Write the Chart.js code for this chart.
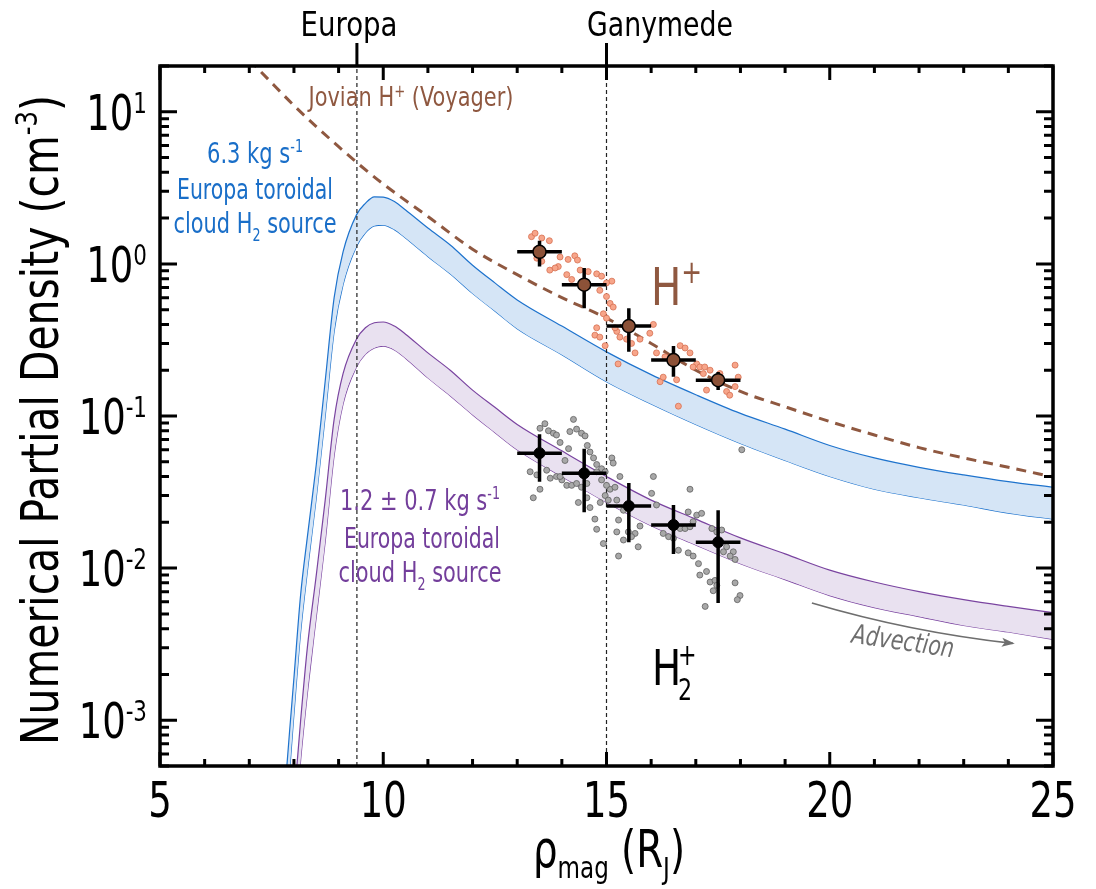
<!DOCTYPE html>
<html>
<head>
<meta charset="utf-8">
<script src="https://cdn.jsdelivr.net/npm/chart.js@4.4.1/dist/chart.umd.min.js"></script>
<style>
  html, body { margin: 0; padding: 0; background: #fff; }
  #wrap { width: 1096px; height: 889px; }
</style>
</head>
<body>
<div id="wrap"><canvas id="densityChart" width="1096" height="889"></canvas></div>
<script>
const FONT = '"Liberation Sans Narrow", "DejaVu Sans Condensed", "Roboto", sans-serif';

// model curves (rho_mag in R_J, density in cm^-3)
const modelRho    = [7.8, 7.9, 8.0, 8.15, 8.3, 8.5, 8.7, 8.9, 9.1, 9.4, 9.6, 9.8, 10.0, 10.25, 10.5, 11, 11.5, 12, 12.5, 13, 14, 15, 16, 17, 18, 19, 20, 21, 22, 23, 24, 25];
const blueUpper   = [3.5e-4, 8.3e-4, 0.0019, 0.0067, 0.016, 0.048, 0.17, 0.6, 1.2, 2.1, 2.5, 2.76, 2.75, 2.57, 2.26, 1.72, 1.33, 0.98, 0.75, 0.58, 0.39, 0.264, 0.187, 0.138, 0.104, 0.082, 0.064, 0.053, 0.046, 0.041, 0.037, 0.034];
const blueLower   = [1.5e-4, 4.5e-4, 0.0011, 0.0038, 0.0095, 0.029, 0.1, 0.36, 0.73, 1.3, 1.6, 1.78, 1.8, 1.68, 1.48, 1.12, 0.86, 0.64, 0.49, 0.375, 0.253, 0.168, 0.12, 0.088, 0.066, 0.051, 0.04, 0.033, 0.029, 0.026, 0.023, 0.021];
const purpleUpper = [5.3e-5, 1.3e-4, 2.9e-4, 0.001, 0.003, 0.009, 0.028, 0.095, 0.19, 0.32, 0.38, 0.41, 0.415, 0.39, 0.345, 0.26, 0.2, 0.148, 0.114, 0.088, 0.059, 0.04, 0.028, 0.021, 0.0158, 0.0124, 0.0097, 0.0081, 0.007, 0.0062, 0.0056, 0.0051];
const purpleLower = [2.5e-5, 6.5e-5, 1.6e-4, 5.5e-4, 0.0015, 0.0048, 0.015, 0.055, 0.12, 0.21, 0.255, 0.28, 0.288, 0.272, 0.24, 0.178, 0.136, 0.102, 0.078, 0.06, 0.04, 0.027, 0.019, 0.0142, 0.0107, 0.0084, 0.0066, 0.0055, 0.0048, 0.0042, 0.0038, 0.0034];

// Jovian H+ (Voyager)
const voyagerRho = [7.0, 7.5, 8.0, 8.5, 9.0, 9.5, 10, 11, 12, 13, 14, 15, 16, 17, 18, 19, 20, 21, 22, 23, 24, 25];
const voyagerH   = [22, 15.5, 11, 8.0, 5.9, 4.4, 3.35, 2.05, 1.25, 0.85, 0.6, 0.44, 0.30, 0.2, 0.145, 0.115, 0.092, 0.075, 0.062, 0.053, 0.046, 0.0397];

// binned means with error bars
const binRho  = [13.5, 14.5, 15.5, 16.5, 17.5];
const binHalf = 0.5;
const hpMean  = [1.2, 0.73, 0.39, 0.233, 0.172];
const hpLow   = [0.96, 0.51, 0.264, 0.181, 0.148];
const hpHigh  = [1.42, 0.94, 0.51, 0.289, 0.195];
const h2Mean  = [0.057, 0.042, 0.0256, 0.0192, 0.0148];
const h2Low   = [0.037, 0.0233, 0.0148, 0.0124, 0.0059];
const h2High  = [0.076, 0.061, 0.0362, 0.026, 0.024];

// individual measurements
const hpScatterRho  = [13.32,13.40,13.55,13.72,13.42,13.44,13.55,13.73,13.92,13.96,14.14,14.29,14.35,13.85,14.11,14.22,14.41,14.59,14.78,14.89,15.12,15.00,14.85,15.00,15.08,15.15,14.93,15.00,14.78,14.74,14.85,14.97,15.23,15.30,15.19,15.45,15.56,15.64,15.75,15.97,16.05,16.12,16.31,16.65,16.76,16.87,17.02,17.09,17.20,17.32,17.17,17.24,17.69,17.76,17.88,17.95,17.88,16.61,16.57,16.20,16.27,15.26,17.47,17.54,16.94];
const hpScatterDens = [1.51,1.59,1.48,1.42,1.24,1.09,1.04,0.91,0.96,1.11,1.07,1.13,1.06,0.94,0.85,0.79,0.91,0.89,0.86,0.83,0.77,0.75,0.67,0.61,0.55,0.52,0.47,0.44,0.38,0.34,0.33,0.29,0.36,0.33,0.38,0.32,0.30,0.26,0.32,0.35,0.40,0.26,0.245,0.29,0.28,0.26,0.22,0.21,0.21,0.20,0.19,0.148,0.145,0.137,0.156,0.18,0.216,0.116,0.173,0.168,0.18,0.22,0.173,0.19,0.21];
const h2ScatterRho  = [13.51,13.62,13.70,13.81,13.88,13.96,14.26,14.33,14.44,14.52,14.57,14.63,14.71,14.78,14.89,14.97,15.12,15.15,14.18,14.07,13.29,13.44,13.51,13.36,13.66,13.74,13.88,14.00,14.11,14.22,14.33,14.37,14.56,14.74,14.78,14.93,14.86,14.97,15.08,15.19,15.30,15.23,15.38,15.27,15.23,15.38,15.49,15.64,15.75,15.71,15.27,16.05,16.01,16.12,16.87,16.83,17.02,17.13,16.94,16.65,16.76,16.87,16.27,16.39,16.50,16.61,16.83,16.94,17.06,17.09,17.24,17.32,17.43,17.39,17.47,17.21,17.88,17.99,17.93,17.69,17.84,17.77,17.88,17.62,17.36,17.47,17.58,18.03,14.78,14.89,15.00,15.04,14.56,14.44,13.96,14.15,14.63,15.56];
const h2ScatterDens = [0.083,0.089,0.080,0.077,0.075,0.067,0.095,0.082,0.077,0.074,0.064,0.058,0.053,0.048,0.045,0.043,0.053,0.049,0.079,0.051,0.043,0.041,0.033,0.029,0.044,0.039,0.040,0.038,0.035,0.035,0.036,0.027,0.029,0.021,0.018,0.0145,0.027,0.030,0.033,0.034,0.040,0.028,0.024,0.0207,0.0173,0.0153,0.0173,0.0169,0.0189,0.0138,0.0120,0.040,0.031,0.026,0.033,0.0234,0.0223,0.0229,0.0202,0.0182,0.0182,0.0187,0.0169,0.0161,0.0157,0.0131,0.0126,0.0120,0.0107,0.0090,0.0095,0.0081,0.0083,0.0071,0.0077,0.0056,0.0080,0.0066,0.0062,0.0138,0.0128,0.0120,0.0114,0.0128,0.0182,0.0173,0.0178,0.060,0.043,0.038,0.035,0.028,0.036,0.034,0.040,0.061,0.025,0.0161];

// axes
const xMin = 5, xMax = 25;
const yMin = 5e-4, yMax = 20;
const xLabels = [5, 10, 15, 20, 25];
const yDecades = [-3, -2, -1, 0, 1];
const moonNames = ['Europa', 'Ganymede'];
const moonRho = [9.41, 15.0];

// advection arrow (start, bend, end)
const arrowRho = [19.6, 21.8, 24.1];
const arrowDens = [0.0059, 0.0038, 0.0032];

const BLUE = 'rgb(30,115,205)';
const PURPLE = 'rgb(122,68,160)';
const BROWN = 'rgb(143,88,64)';

const zip = (xs, ys) => xs.map((v, i) => ({ x: v, y: ys[i] }));

function partFont(p) {
  return (p.italic ? 'italic ' : '') + p.size + 'px ' + FONT;
}
function richWidth(ctx, parts) {
  let w = 0;
  parts.forEach(p => { ctx.font = partFont(p); w += ctx.measureText(p.t).width; });
  return w;
}
// draws a run of text pieces (sub/superscripts via dy), optionally squeezed to a width
function drawRich(ctx, parts, x, y, opts) {
  ctx.save();
  ctx.translate(x, y);
  if (opts.rotate) ctx.rotate(opts.rotate);
  const w = richWidth(ctx, parts);
  const sx = opts.width ? opts.width / w : (opts.sx || 1);
  ctx.scale(sx, 1);
  let cx = opts.align === 'center' ? -w / 2 : opts.align === 'right' ? -w : 0;
  ctx.fillStyle = opts.color || '#000';
  ctx.textAlign = 'left';
  ctx.textBaseline = 'alphabetic';
  parts.forEach(p => {
    ctx.font = partFont(p);
    ctx.fillText(p.t, cx, p.dy || 0);
    cx += ctx.measureText(p.t).width;
  });
  ctx.restore();
}

const framePlugin = {
  id: 'frame',
  beforeDatasetDraw(chart, args) {
    const ds = chart.data.datasets[args.index];
    if (!ds.errorBars) return;
    const { ctx, scales: { x, y } } = chart;
    const e = ds.errorBars;
    ctx.save();
    ctx.strokeStyle = '#000';
    ctx.lineWidth = 3.5;
    e.rho.forEach((r, i) => {
      const px = x.getPixelForValue(r);
      const py = y.getPixelForValue(e.mean[i]);
      ctx.beginPath();
      ctx.moveTo(x.getPixelForValue(r - binHalf), py);
      ctx.lineTo(x.getPixelForValue(r + binHalf), py);
      ctx.moveTo(px, y.getPixelForValue(e.high[i]));
      ctx.lineTo(px, y.getPixelForValue(e.low[i]));
      ctx.stroke();
    });
    ctx.restore();
  },
  afterDraw(chart) {
    const { ctx, chartArea: a, scales: { x, y } } = chart;
    ctx.save();

    // box
    ctx.strokeStyle = '#000';
    ctx.lineWidth = 3.5;
    ctx.strokeRect(a.left, a.top, a.right - a.left, a.bottom - a.top);

    // x ticks
    ctx.lineWidth = 3;
    ctx.beginPath();
    for (let v = xMin; v <= xMax; v++) {
      const px = x.getPixelForValue(v);
      const len = v % 5 === 0 ? 14 : 7;
      ctx.moveTo(px, a.bottom); ctx.lineTo(px, a.bottom - len);
      ctx.moveTo(px, a.top); ctx.lineTo(px, a.top + len);
    }
    // y ticks
    for (let d = -4; d <= 1; d++) {
      for (let m = 1; m <= 9; m++) {
        const v = m * Math.pow(10, d);
        if (v < yMin || v > yMax) continue;
        const py = y.getPixelForValue(v);
        const len = m === 1 ? 17 : 9;
        ctx.moveTo(a.left, py); ctx.lineTo(a.left + len, py);
        ctx.moveTo(a.right, py); ctx.lineTo(a.right - len, py);
      }
    }
    // moon marks above the frame
    moonRho.forEach(r => {
      const px = x.getPixelForValue(r);
      ctx.moveTo(px, a.top); ctx.lineTo(px, a.top - 23);
    });
    ctx.stroke();

    // tick labels
    ctx.font = '50px ' + FONT;
    const sx = 47 / ctx.measureText('10').width;
    xLabels.forEach(v => {
      drawRich(ctx, [{ t: String(v), size: 50 }], x.getPixelForValue(v), 817, { align: 'center', sx });
    });
    yDecades.forEach(d => {
      const py = y.getPixelForValue(Math.pow(10, d));
      drawRich(ctx, [{ t: '10', size: 50 }, { t: String(d), size: 29, dy: -17 }], 147, py + 18, { align: 'right', sx });
    });
    // moon labels sit slightly off their marks, as in the source figure
    const moonLabelX = [349, 660];
    const moonLabelW = [97, 146];
    moonNames.forEach((n, i) => {
      drawRich(ctx, [{ t: n, size: 34 }], moonLabelX[i], 36, { align: 'center', width: moonLabelW[i] });
    });

    // axis titles
    drawRich(ctx, [
      { t: 'Numerical Partial Density (cm', size: 52 },
      { t: '-3', size: 31, dy: -21 },
      { t: ')', size: 52 }
    ], 58, 420, { align: 'center', rotate: -Math.PI / 2, width: 650 });
    drawRich(ctx, [
      { t: 'ρ', size: 52 },
      { t: 'mag', size: 31, dy: 11 },
      { t: ' (R', size: 52 },
      { t: 'J', size: 31, dy: 12 },
      { t: ')', size: 52 }
    ], 609, 867, { align: 'center', width: 152 });

    // annotations
    drawRich(ctx, [{ t: 'Jovian H', size: 27 }, { t: '+', size: 17, dy: -9 }, { t: ' (Voyager)', size: 27 }],
      411, 106, { align: 'center', width: 205, color: BROWN });

    const blueTxt = 'rgb(25,110,200)';
    drawRich(ctx, [{ t: '6.3 kg s', size: 28 }, { t: '-1', size: 17, dy: -11 }], 255, 163, { align: 'center', width: 96, color: blueTxt });
    drawRich(ctx, [{ t: 'Europa toroidal', size: 28 }], 255, 199, { align: 'center', width: 156, color: blueTxt });
    drawRich(ctx, [{ t: 'cloud H', size: 28 }, { t: '2', size: 17, dy: 8 }, { t: ' source', size: 28 }], 255, 233, { align: 'center', width: 163, color: blueTxt });

    const purpleTxt = 'rgb(115,62,155)';
    drawRich(ctx, [{ t: '1.2 ± 0.7 kg s', size: 28 }, { t: '-1', size: 17, dy: -11 }], 420, 510, { align: 'center', width: 160, color: purpleTxt });
    drawRich(ctx, [{ t: 'Europa toroidal', size: 28 }], 422, 548, { align: 'center', width: 156, color: purpleTxt });
    drawRich(ctx, [{ t: 'cloud H', size: 28 }, { t: '2', size: 17, dy: 8 }, { t: ' source', size: 28 }], 420, 582, { align: 'center', width: 163, color: purpleTxt });

    // species labels
    drawRich(ctx, [{ t: 'H', size: 52 }, { t: '+', size: 32, dy: -22 }], 651, 305, { align: 'left', sx: sx * 1.05, color: BROWN });
    drawRich(ctx, [{ t: 'H', size: 50 }], 652, 685, { align: 'left', sx: sx * 1.05 });
    drawRich(ctx, [{ t: '+', size: 30 }], 678, 665, { align: 'left', sx });
    drawRich(ctx, [{ t: '2', size: 30 }], 678, 700, { align: 'left', sx });

    // advection arrow
    const p0 = [x.getPixelForValue(arrowRho[0]), y.getPixelForValue(arrowDens[0])];
    const p1 = [x.getPixelForValue(arrowRho[1]), y.getPixelForValue(arrowDens[1])];
    const p2 = [x.getPixelForValue(arrowRho[2]), y.getPixelForValue(arrowDens[2])];
    const grey = 'rgb(110,110,110)';
    ctx.strokeStyle = grey;
    ctx.fillStyle = grey;
    ctx.lineWidth = 1.6;
    ctx.beginPath();
    ctx.moveTo(p0[0], p0[1]);
    ctx.quadraticCurveTo(p1[0], p1[1], p2[0], p2[1]);
    ctx.stroke();
    const ang = Math.atan2(p2[1] - p1[1], p2[0] - p1[0]);
    ctx.save();
    ctx.translate(p2[0], p2[1]);
    ctx.rotate(ang);
    ctx.beginPath();
    ctx.moveTo(2, 0);
    ctx.lineTo(-11, -4.5);
    ctx.lineTo(-8, 0);
    ctx.lineTo(-11, 4.5);
    ctx.closePath();
    ctx.fill();
    ctx.restore();
    drawRich(ctx, [{ t: 'Advection', size: 27, italic: true, dy: 9 }], 903, 641,
      { align: 'center', rotate: 8.3 * Math.PI / 180, width: 103, color: grey });

    ctx.restore();
  }
};

const ctx = document.getElementById('densityChart').getContext('2d');

const chart = new Chart(ctx, {
  type: 'line',
  data: {
    datasets: [
      {
        label: 'H+ bins', data: zip(binRho, hpMean), showLine: false,
        pointRadius: 6.5, pointBackgroundColor: 'rgb(140,82,56)', pointBorderColor: '#000', pointBorderWidth: 1.5,
        errorBars: { rho: binRho, mean: hpMean, low: hpLow, high: hpHigh }, order: 1
      },
      {
        label: 'H2+ bins', data: zip(binRho, h2Mean), showLine: false,
        pointRadius: 5.5, pointBackgroundColor: '#000', pointBorderColor: '#000', pointBorderWidth: 1,
        errorBars: { rho: binRho, mean: h2Mean, low: h2Low, high: h2High }, order: 2
      },
      {
        label: 'H+ data', data: zip(hpScatterRho, hpScatterDens), showLine: false,
        pointRadius: 3, pointBackgroundColor: 'rgb(247,165,138)', pointBorderColor: 'rgb(214,112,82)', pointBorderWidth: 0.8,
        order: 5
      },
      {
        label: 'H2+ data', data: zip(h2ScatterRho, h2ScatterDens), showLine: false,
        pointRadius: 3, pointBackgroundColor: 'rgb(168,168,168)', pointBorderColor: 'rgb(95,95,95)', pointBorderWidth: 0.8,
        order: 5
      },
      {
        label: 'Jovian H+ (Voyager)', data: zip(voyagerRho, voyagerH),
        borderColor: BROWN, borderWidth: 3, borderDash: [10, 7], pointRadius: 0,
        cubicInterpolationMode: 'monotone', fill: false, order: 8
      },
      {
        label: 'Europa', data: [{ x: moonRho[0], y: yMin }, { x: moonRho[0], y: yMax }],
        borderColor: '#222', borderWidth: 1.2, borderDash: [4, 3], pointRadius: 0, fill: false, order: 9
      },
      {
        label: 'Ganymede', data: [{ x: moonRho[1], y: yMin }, { x: moonRho[1], y: yMax }],
        borderColor: '#222', borderWidth: 1.2, borderDash: [4, 3], pointRadius: 0, fill: false, order: 9
      },
      {
        label: '6.3 kg/s upper', data: zip(modelRho, blueUpper),
        borderColor: BLUE, borderWidth: 1.2, pointRadius: 0, cubicInterpolationMode: 'monotone',
        fill: '+1', backgroundColor: 'rgb(213,229,246)', order: 10
      },
      {
        label: '6.3 kg/s lower', data: zip(modelRho, blueLower),
        borderColor: BLUE, borderWidth: 1.2, pointRadius: 0, cubicInterpolationMode: 'monotone',
        fill: false, order: 10
      },
      {
        label: '1.2 kg/s upper', data: zip(modelRho, purpleUpper),
        borderColor: PURPLE, borderWidth: 1.2, pointRadius: 0, cubicInterpolationMode: 'monotone',
        fill: '+1', backgroundColor: 'rgb(233,225,240)', order: 10
      },
      {
        label: '1.2 kg/s lower', data: zip(modelRho, purpleLower),
        borderColor: PURPLE, borderWidth: 1.2, pointRadius: 0, cubicInterpolationMode: 'monotone',
        fill: false, order: 10
      }
    ]
  },
  options: {
    responsive: false,
    devicePixelRatio: 1,
    animation: false,
    events: [],
    layout: { padding: { left: 160, right: 43, top: 66, bottom: 123 } },
    plugins: { legend: { display: false }, tooltip: { enabled: false } },
    scales: {
      x: { type: 'linear', min: xMin, max: xMax, display: false },
      y: { type: 'logarithmic', min: yMin, max: yMax, display: false }
    }
  },
  plugins: [framePlugin]
});
</script>
</body>
</html>
